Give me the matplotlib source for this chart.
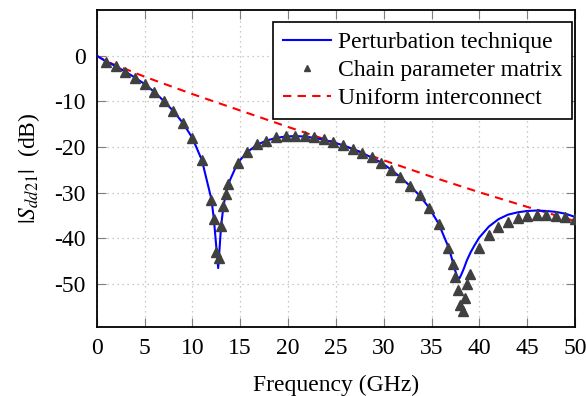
import matplotlib
matplotlib.use("Agg")
import matplotlib.pyplot as plt

# ---- data ----
pert_freq = [0, 1, 2, 3, 4, 5, 6, 7, 8, 9, 10, 11, 12, 12.25, 12.5, 12.7, 12.85, 13.0,
             13.25, 13.5, 13.75, 14.75, 15.75, 16.75, 17.75, 18.75, 19.75, 20.75, 21.75,
             22.75, 23.75, 24.75, 25.75, 26.75, 27.75, 28.75, 29.75, 30.75, 31.75, 32.75,
             33.75, 34.75, 35.75, 36.75, 37.1, 37.4, 37.7, 37.9, 38.1, 38.4, 38.7, 39.1,
             39.5, 40, 41, 42, 43, 44, 45, 46, 47, 48, 49, 50]
pert_db = [0, -1.3, -2.3, -3.5, -4.8, -6.2, -7.9, -9.9, -12.1, -14.7, -18.0, -22.9, -31.5,
           -35.8, -41.8, -46.5, -42.0, -37.3, -33.0, -30.2, -28.1, -23.4, -21.1, -19.5,
           -18.6, -18.0, -17.7, -17.6, -17.7, -18.0, -18.4, -19.0, -19.6, -20.4, -21.3,
           -22.3, -23.4, -24.9, -26.6, -28.5, -30.6, -33.3, -36.8, -41.8, -44.2, -46.6,
           -48.4, -48.8, -48.0, -46.5, -44.8, -43.0, -41.5, -39.8, -37.4, -35.8, -34.8,
           -34.3, -34.0, -33.9, -34.0, -34.2, -34.6, -35.3]

chain_freq = [1, 2, 3, 4, 5, 6, 7, 8, 9, 10, 11, 12, 12.25, 12.5, 12.75, 13, 13.25, 13.5,
              13.75, 14.75, 15.75, 16.75, 17.75, 18.75, 19.75, 20.75, 21.75, 22.75, 23.75,
              24.75, 25.75, 26.75, 27.75, 28.75, 29.75, 30.75, 31.75, 32.75, 33.75, 34.75,
              35.75, 36.75, 37.25, 37.5, 37.75, 38, 38.25, 38.5, 38.75, 39, 40, 41, 42, 43,
              44, 45, 46, 47, 48, 49, 50]
chain_db = [-1.4, -2.3, -3.6, -4.9, -6.2, -7.9, -9.9, -12.1, -14.7, -18.0, -22.9, -31.6,
            -35.8, -43.0, -44.4, -37.2, -33.0, -30.3, -28.1, -23.5, -21.1, -19.3, -18.6,
            -17.9, -17.5, -17.5, -17.5, -17.9, -18.3, -18.9, -19.5, -20.4, -21.4, -22.2,
            -23.4, -25.0, -26.6, -28.5, -30.6, -33.3, -36.8, -42.1, -45.6, -48.4, -51.3,
            -54.6, -55.8, -53.1, -50.0, -47.8, -42.0, -39.2, -37.5, -36.4, -35.5, -35.1,
            -34.9, -34.9, -35.1, -35.3, -35.7]

unif_freq = [0, 1, 2, 3, 5, 10, 15, 20, 25, 30, 35, 40, 45, 50]
unif_db = [0, -1.2, -2.1, -2.9, -4.6, -8.4, -12.0, -15.6, -19.1, -22.9, -26.5, -29.9, -33.1, -36.2]

x_ticks = [0, 5, 10, 15, 20, 25, 30, 35, 40, 45, 50]
y_ticks = [-50, -40, -30, -20, -10, 0]

labels = ["Perturbation technique", "Chain parameter matrix", "Uniform interconnect"]

# ---- style ----
plt.rcParams["font.family"] = ["Liberation Serif", "DejaVu Serif"]
plt.rcParams["mathtext.fontset"] = "stix"
plt.rcParams["axes.unicode_minus"] = False

fig = plt.figure(figsize=(5.86, 3.96), dpi=100)
ax = fig.add_axes([96.7 / 586, 1 - 327 / 396, (575 - 96.7) / 586, (327 - 10) / 396])

ax.plot(pert_freq, pert_db, color="#0000ff", lw=1.5, label=labels[0], zorder=3)
ax.plot(chain_freq, chain_db, linestyle="none", marker="^", markersize=6.8,
        color="#404040", label=labels[1], zorder=4)
ax.plot(unif_freq, unif_db, color="#ff0000", lw=1.5, linestyle=(0, (4, 3)),
        label=labels[2], zorder=2)

ax.set_xlim(0, 50)
ax.set_ylim(-59.4, 10)
ax.set_xticks(x_ticks)
ax.set_yticks(y_ticks)
ax.grid(True, linestyle=(0, (1, 3)), color="#b8b8b8", lw=0.9)
ax.set_axisbelow(True)

ax.tick_params(direction="in", length=6.5, width=0.8, color="#7f7f7f",
               top=True, right=True, labelsize=17, pad=8)
for sp in ax.spines.values():
    sp.set_linewidth(1.3)
    sp.set_color("black")

ax.set_xlabel("Frequency (GHz)", fontsize=17, labelpad=11)
ax.set_ylabel(r"$|S_{dd21}|$  (dB)", fontsize=17, labelpad=9)

leg = ax.legend(loc="upper right", bbox_to_anchor=(0.9937, 0.962), borderaxespad=0,
                fontsize=17, frameon=True, fancybox=False, framealpha=1,
                edgecolor="black", handlelength=2.0, handletextpad=0.3,
                labelspacing=0.27, borderpad=0.42, markerscale=0.6)
leg.get_frame().set_linewidth(1.2)

fig.savefig("out.png", dpi=100)
